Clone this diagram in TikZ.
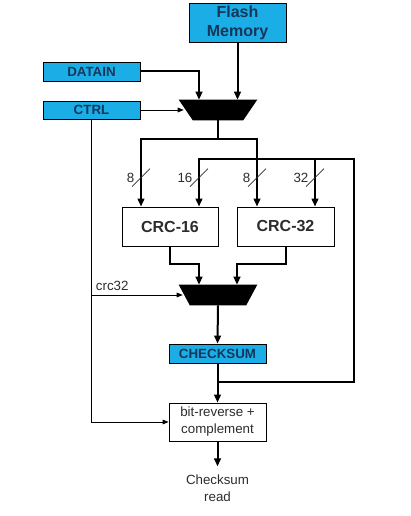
\documentclass[tikz,border=0pt]{standalone}
\usepackage{fontspec}
\setmainfont{Liberation Sans}
\usetikzlibrary{arrows.meta,positioning,calc}

\definecolor{regcyan}{RGB}{27,174,230}
\definecolor{regtext}{RGB}{22,54,90}
\definecolor{labeltext}{RGB}{45,45,45}

\begin{document}
\begin{tikzpicture}[
      x=0.75pt, y=-0.75pt,
      every node/.style={font=\fontsize{10}{12.75}\selectfont, text=labeltext},
      reg/.style={draw, line width=0.6pt, fill=regcyan, text=regtext, inner sep=0pt,
        font=\bfseries\fontsize{10}{12}\selectfont},
      blk/.style={draw, line width=0.6pt, fill=white, inner sep=0pt, align=center},
      mux/.style={inner sep=0pt, minimum width=58.5pt, minimum height=15pt},
      bus/.style={-{Triangle[length=6pt,width=5pt]}, line width=1.5pt},
      busline/.style={line width=1.5pt},
      wire/.style={-{Triangle[length=4.5pt,width=3.5pt]}, line width=0.6pt}
    ]

    \fill[white] (0,0) rectangle (410,516);
    \useasboundingbox (0,0) rectangle (410,516);

    % Inputs
    \node[
      reg,
      align=center,
      minimum width=72.75pt,
      minimum height=29.25pt,
      font=\bfseries\fontsize{12}{14.25}\selectfont
    ] (flash) at (237.5, 22.5) {Flash\\Memory};

    \node[reg, minimum width=72.75pt, minimum height=14.25pt] (datain) at (91.5, 71.5) {DATAIN};
    \node[reg, minimum width=72.75pt, minimum height=13.5pt] (ctrl) at (91.5, 110) {CTRL};

    % Input mux
    \node[mux] (mux1) at (218, 110) {};

    % CRC engines
    \node[
      blk,
      minimum width=72pt,
      minimum height=29.25pt,
      font=\bfseries\fontsize{12}{14}\selectfont
    ] (crc16) at (170, 226.5) {CRC-16};

    \node[
      blk,
      minimum width=72.75pt,
      minimum height=29.25pt,
      font=\bfseries\fontsize{12}{14}\selectfont
    ] (crc32) at (285.5, 226.5) {CRC-32};

    % Output mux and result
    \node[mux] (mux2) at (218, 295) {};
    \node[reg, minimum width=72.75pt, minimum height=14.25pt] (chk) at (217.5, 353.5) {CHECKSUM};

    \node[
      blk,
      minimum width=72.75pt,
      minimum height=28.5pt
    ] (bitrev) at (217.5, 422) {bit-reverse +\\complement};

    \node[align=center, inner xsep=2pt, inner ysep=6pt, below=18.75pt of bitrev] (out) {Checksum\\read};

    % Mux bodies
    \foreach \m/\i in {mux1/14, mux2/11} {
      \fill (\m.north west) -- (\m.north east) -- ($(\m.south east)+(-\i,0)$)
        -- ($(\m.south west)+(\i,0)$) -- cycle;
    }

    % Routing points
    \coordinate (split) at (218, 139);
    \coordinate (fb) at (218, 382);
    \coordinate (fbtop) at (354, 159);
    \coordinate (in1) at ($(crc16.north)+(-29,0)$);
    \coordinate (in2) at ($(crc16.north)+(29,0)$);
    \coordinate (in3) at ($(crc32.north)+(-28.5,0)$);
    \coordinate (in4) at ($(crc32.north)+(29.5,0)$);

    % Arrows into the input mux
    \draw[bus] (flash.south) -- (flash.south |- mux1.north);
    \draw[bus] (datain.east) -| ($(mux1.north)+(-19,0)$);
    \draw[wire] (ctrl.east) -- ($(mux1.west)+(5,0)$);

    % Mux to CRC engines
    \draw[busline] (mux1.south) -- (split);
    \draw[bus] (split) -| (in1);
    \draw[bus] (split) -| (in3);

    % Feedback of the checksum
    \draw[bus] (fb) -| (fbtop) -| (in2);
    \draw[bus] (in4 |- fbtop) -- (in4);

    % Bus widths
    \foreach \p/\w in {in1/8, in2/16, in3/8, in4/32} {
      \draw[labeltext, line width=0.5pt] ($(\p)+(-9,-20)$) -- ($(\p)+(9,-38)$);
      \node[left, inner sep=1pt] at ($(\p)+(-5,-29)$) {\w};
    }

    % CRC engines to output mux
    \draw[bus] (crc16.south) -- ++(0,18) -| ($(mux2.north)+(-19,0)$);
    \draw[bus] (crc32.south) -- ++(0,18) -| ($(mux2.north)+(19,0)$);

    % Control lines
    \draw[wire] (ctrl.south) |- (bitrev.west);
    \draw[wire] (ctrl.south |- mux2.west) -- node[pos=0, above right, inner sep=3pt] {crc32}
      ($(mux2.west)+(4,0)$);

    % Result path
    \draw[bus] (mux2.south) -- (chk.north);
    \draw[bus] (chk.south) -- (bitrev.north);
    \draw[bus] (bitrev.south) -- (out);

  \end{tikzpicture}
\end{document}
